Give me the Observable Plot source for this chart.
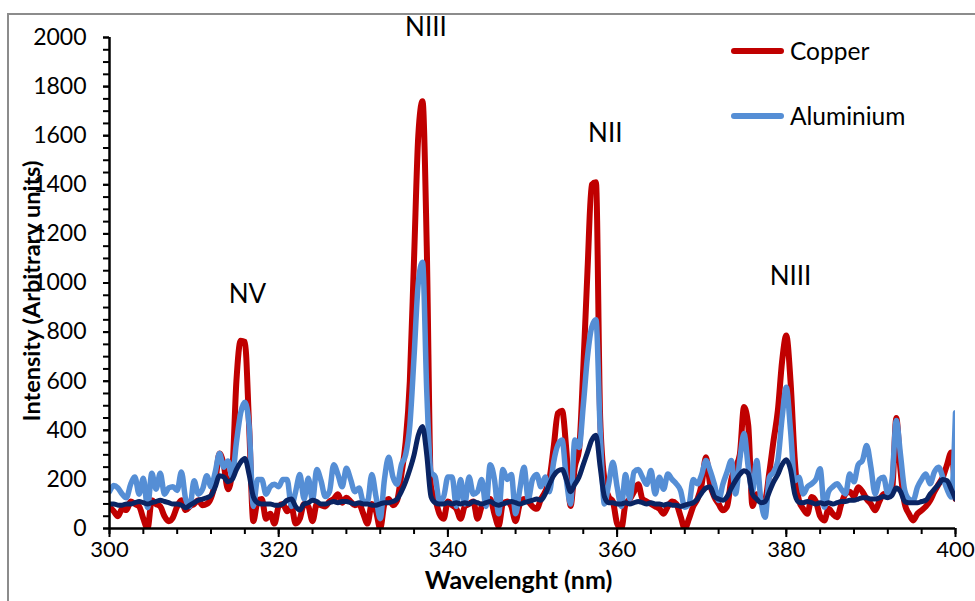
<!DOCTYPE html>
<html>
<head>
<meta charset="utf-8">
<script src="https://cdn.jsdelivr.net/npm/d3@7"></script>
<script src="https://cdn.jsdelivr.net/npm/@observablehq/plot@0.6"></script>
<style>
  html, body { margin: 0; padding: 0; background: white; }
  #wrap { position: relative; width: 975px; height: 601px; overflow: hidden; font-family: Lato, "Open Sans", sans-serif; }
  #frame { position: absolute; left: 7px; top: 13px; width: 1100px; height: 700px; border-top: 2px solid #8c8c8c; border-left: 2px solid #8c8c8c; pointer-events: none; }
  #chart { position: absolute; left: 0; top: 0; }
  .leg { position: absolute; display: flex; align-items: center; font-size: 24.5px; color: #000; }
  .leg .sw { width: 53px; height: 6px; border-radius: 3px; margin-right: 6px; }
</style>
</head>
<body>
<div id="wrap">
  <div id="frame"></div>
  <div id="chart"></div>
  <div class="leg" style="left:731px; top:36px;"><div class="sw" style="background:#C00000"></div><span>Copper</span></div>
  <div class="leg" style="left:731px; top:101px;"><div class="sw" style="background:#558ED5"></div><span>Aluminium</span></div>
</div>
<script>
// ---- data ----
const wavelength = [
  300,300.5,301,301.5,302,302.5,303,303.5,304,304.5,305,305.5,306,306.5,307,307.5,308,308.5,309,309.5,
  310,310.5,311,311.5,312,312.5,313,313.5,314,314.5,315,315.5,316,316.5,317,317.5,318,318.5,319,319.5,
  320,320.5,321,321.5,322,322.5,323,323.5,324,324.5,325,325.5,326,326.5,327,327.5,328,328.5,329,329.5,
  330,330.5,331,331.5,332,332.5,333,333.5,334,334.5,335,335.5,336,336.5,337,337.5,338,338.5,339,339.5,
  340,340.5,341,341.5,342,342.5,343,343.5,344,344.5,345,345.5,346,346.5,347,347.5,348,348.5,349,349.5,
  350,350.5,351,351.5,352,352.5,353,353.5,354,354.5,355,355.5,356,356.5,357,357.5,358,358.5,359,359.5,
  360,360.5,361,361.5,362,362.5,363,363.5,364,364.5,365,365.5,366,366.5,367,367.5,368,368.5,369,369.5,
  370,370.5,371,371.5,372,372.5,373,373.5,374,374.5,375,375.5,376,376.5,377,377.5,378,378.5,379,379.5,
  380,380.5,381,381.5,382,382.5,383,383.5,384,384.5,385,385.5,386,386.5,387,387.5,388,388.5,389,389.5,
  390,390.5,391,391.5,392,392.5,393,393.5,394,394.5,395,395.5,396,396.5,397,397.5,398,398.5,399,399.5,
  400
];
const copper = [
  90,70,50,80,75,110,100,90,40,0,115,100,90,50,30,45,90,115,75,90,
  100,115,95,100,125,190,305,260,160,230,600,765,760,420,30,110,120,40,60,20,
  90,100,70,90,20,40,100,90,30,100,95,90,110,120,140,105,125,110,95,100,
  60,20,100,70,0,100,120,95,115,220,350,600,1100,1600,1740,1150,170,120,60,40,
  110,95,80,40,90,100,110,40,90,110,120,60,10,100,110,90,30,100,120,110,
  90,80,120,150,200,330,470,480,320,92,250,320,650,1050,1400,1410,450,200,130,110,
  20,0,100,120,150,180,120,110,100,90,80,60,90,110,100,50,0,40,90,120,
  180,290,180,128,100,74,90,200,250,300,495,420,92,140,114,120,230,360,480,680,
  786,600,280,114,80,60,128,110,50,33,80,60,46,100,141,150,130,168,150,120,
  100,74,110,141,130,150,450,236,100,60,33,60,74,90,114,150,180,209,260,310,
  120
];
const aluminium = [
  150,175,165,140,125,180,210,140,205,85,225,160,225,140,165,170,155,230,120,90,
  195,140,160,215,170,230,305,250,275,210,350,470,514,420,90,200,200,140,170,180,
  170,200,200,90,150,220,120,205,115,240,195,130,150,260,220,170,245,200,150,165,
  110,110,220,130,40,200,290,210,180,260,300,420,700,1000,1085,560,230,210,110,130,
  210,210,90,200,100,210,140,150,200,90,260,200,60,240,200,220,60,160,250,120,
  200,220,170,210,150,270,340,360,200,100,360,330,500,700,820,850,400,100,180,270,
  170,90,220,120,230,240,209,180,236,141,209,160,222,200,182,155,87,100,200,182,
  220,277,236,180,114,180,230,277,141,280,387,250,150,277,114,46,209,230,277,450,
  575,400,195,209,141,170,182,200,243,87,150,170,182,160,141,222,190,260,277,338,
  250,141,200,209,141,200,440,300,155,120,114,168,200,222,182,230,250,209,160,128,
  472
];
const average = [
  100,100,95,95,100,100,105,110,105,100,105,110,115,110,105,100,100,95,85,95,
  105,115,120,125,135,170,215,210,190,200,240,270,285,220,130,105,100,100,100,95,
  95,100,115,120,90,75,100,105,115,110,100,100,105,110,105,110,110,105,100,105,
  100,100,95,95,100,105,105,110,120,150,190,240,300,380,415,300,130,105,100,100,
  105,100,105,100,105,100,110,105,100,105,110,100,95,100,105,110,105,100,105,110,
  115,120,115,140,180,215,235,240,200,150,180,210,260,310,360,380,250,130,105,105,
  100,100,105,100,105,110,105,100,105,100,100,95,100,95,95,90,95,100,105,120,
  145,165,170,130,120,115,130,165,195,220,235,225,140,120,105,110,150,190,220,260,
  280,240,140,107,105,110,105,100,105,100,105,100,105,110,110,115,115,120,125,125,
  120,120,125,130,125,135,165,150,110,105,105,105,110,115,140,160,180,200,195,160,
  120
];
const annotLabels = ["NV", "NIII", "NII", "NIII"];
const annotX = [316.3, 337.4, 358.6, 380.5];
const annotY = [953, 2040, 1609, 1026];
const xTicks = [300, 320, 340, 360, 380, 400];
const yTicks = [0, 200, 400, 600, 800, 1000, 1200, 1400, 1600, 1800, 2000];

// ---- build tables ----
const cu = wavelength.map((w, i) => ({w, v: copper[i]}));
const al = wavelength.map((w, i) => ({w, v: aluminium[i]}));
const av = wavelength.map((w, i) => ({w, v: average[i]}));
const ann = annotLabels.map((t, i) => ({t, x: annotX[i], y: annotY[i]}));
const xMinor = d3.range(300, 400.01, 4);
const yMinor = d3.range(0, 2000.01, 50);

const chart = Plot.plot({
  width: 975,
  height: 601,
  marginLeft: 109,
  marginRight: 20,
  marginTop: 37,
  marginBottom: 73,
  x: {domain: [300, 400]},
  y: {domain: [0, 2000]},
  style: {fontFamily: "Lato, 'Open Sans', sans-serif", color: "black", background: "transparent", overflow: "visible"},
  marks: [
    Plot.line(cu, {x: "w", y: "v", stroke: "#C00000", strokeWidth: 6, curve: "monotone-x", clip: true}),
    Plot.line(al, {x: "w", y: "v", stroke: "#558ED5", strokeWidth: 5.5, curve: "monotone-x", clip: true}),
    Plot.line(av, {x: "w", y: "v", stroke: "#0A2463", strokeWidth: 5, curve: "monotone-x", clip: true}),
    Plot.axisY({ticks: yMinor, tickSize: 6, tickFormat: () => "", label: null, strokeWidth: 2}),
    Plot.axisY({ticks: yTicks, tickSize: 6, tickPadding: 17, tickFormat: d => String(d), fontSize: 23, label: null, strokeWidth: 2}),
    Plot.axisX({ticks: xMinor, tickSize: 6, tickFormat: () => "", label: null, strokeWidth: 2}),
    Plot.axisX({ticks: xTicks, tickSize: 9, tickPadding: 4, tickFormat: d => String(d), fontSize: 22, label: null, strokeWidth: 2}),
    Plot.ruleX([300], {stroke: "black", strokeWidth: 2.5}),
    Plot.ruleY([0], {stroke: "black", strokeWidth: 2.5}),
    Plot.text(ann, {x: "x", y: "y", text: "t", fontSize: 26, fill: "black"}),
    Plot.text(["Intensity (Arbitrary units)"], {frameAnchor: "left", textAnchor: "middle", rotate: -90, dx: -77, dy: 8, fontSize: 23.5, fontWeight: "bold", fill: "black"}),
    Plot.text(["Wavelenght (nm)"], {frameAnchor: "bottom", textAnchor: "middle", dx: -14, dy: 60, fontSize: 25, fontWeight: "bold", fill: "black"})
  ]
});
document.getElementById("chart").appendChild(chart);
</script>
</body>
</html>
